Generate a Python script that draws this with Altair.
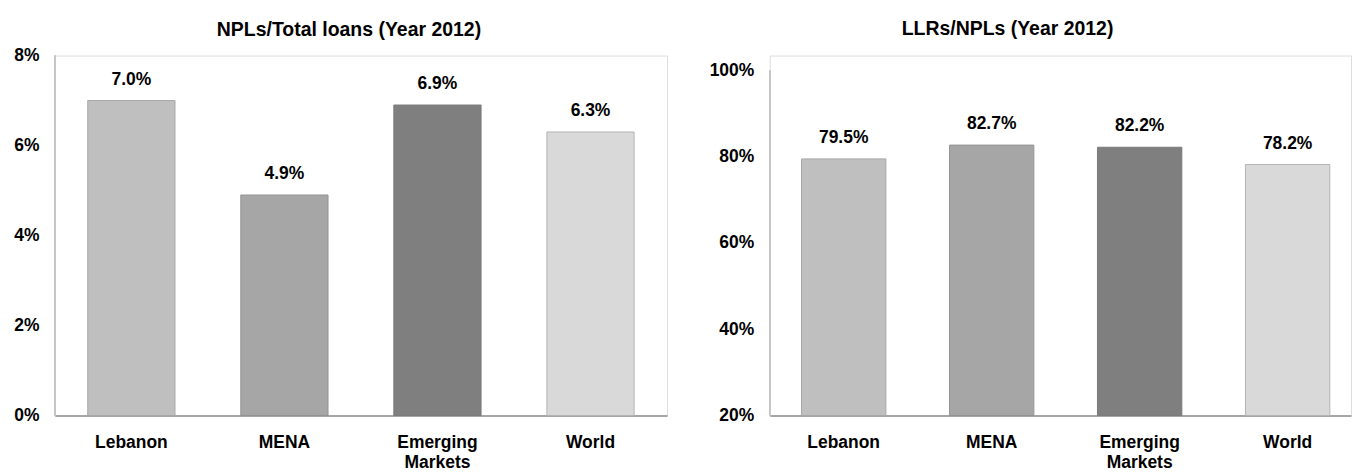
import altair as alt
import pandas as pd

# Categories and bar colours shared by both panels
regions = ["Lebanon", "MENA", "Emerging Markets", "World"]
bar_colors = ["#BFBFBF", "#A6A6A6", "#7F7F7F", "#D9D9D9"]
edge_colors = ["#A8A8A8", "#949494", "#7A7A7A", "#B4B4B4"]

# Year 2012 ratios, in percent
npl_ratio = [7.0, 4.9, 6.9, 6.3]
llr_coverage = [79.5, 82.7, 82.2, 78.2]

left_ticks = [0, 2, 4, 6, 8]
right_ticks = [20, 40, 60, 80, 100]

FONT = "Liberation Sans"
PLOT_H = 361


def panel(values, ticks, y_top, title, width, title_dx, title_offset, pad_outer, align):
    base = ticks[0]
    df = pd.DataFrame({"region": regions, "value": values, "base": [base] * len(values)})
    x = alt.X(
        "region:N",
        sort=regions,
        scale=alt.Scale(paddingInner=0.43, paddingOuter=pad_outer, align=align),
        axis=alt.Axis(
            title=None,
            labelAngle=0,
            ticks=False,
            labelPadding=18,
            labelFontSize=17.5,
            labelFont=FONT,
            labelFontWeight="bold",
            labelColor="#000000",
            labelExpr="split(datum.label, ' ')",
            labelLineHeight=20,
            domainColor="#A6A6A6",
            domainWidth=2,
        ),
    )
    y_scale = alt.Scale(domain=[base, y_top], nice=False, zero=False)
    y_axis = alt.Axis(
        title=None,
        values=ticks,
        labelExpr="datum.value + '%'",
        ticks=False,
        grid=False,
        domain=False,
        labelPadding=16,
        labelFontSize=17.5,
        labelFont=FONT,
        labelFontWeight="bold",
        labelColor="#000000",
    )
    bars = alt.Chart(df).mark_bar(strokeWidth=1).encode(
        x=x,
        y=alt.Y("value:Q", scale=y_scale, axis=y_axis),
        y2="base:Q",
        color=alt.Color("region:N", scale=alt.Scale(domain=regions, range=bar_colors), legend=None),
        stroke=alt.Stroke("region:N", scale=alt.Scale(domain=regions, range=edge_colors), legend=None),
    )
    # vertical axis line running from the lowest to the highest tick
    axis_line = alt.Chart(df).mark_rule(color="#C4C4C4", strokeWidth=1.3).encode(
        x=alt.value(0),
        y=alt.datum(ticks[0]),
        y2=alt.datum(ticks[-1]),
    )
    labels = (
        alt.Chart(df)
        .transform_calculate(txt="format(datum.value, '.1f') + '%'")
        .mark_text(
            baseline="alphabetic",
            dy=-16,
            fontSize=17.5,
            font=FONT,
            fontWeight="bold",
            color="#000000",
        )
        .encode(x=alt.X("region:N", sort=regions), y=alt.Y("value:Q"), text="txt:N")
    )
    return (bars + axis_line + labels).properties(
        width=width,
        height=PLOT_H,
        title=alt.TitleParams(
            title,
            font=FONT,
            fontSize=19.5,
            fontWeight="bold",
            color="#000000",
            anchor="middle",
            offset=title_offset,
            dx=title_dx,
        ),
    )


# The right panel's 100% mark sits a little below the top of the plot area
left = panel(npl_ratio, left_ticks, 8, "NPLs/Total loans (Year 2012)", 614, -12, 6, 0.215, 0.5)
right = panel(llr_coverage, right_ticks, 103.47, "LLRs/NPLs (Year 2012)", 583, -53, 16, 0.179, 0.6)

chart = (
    alt.hconcat(left, right, spacing=40)
    .resolve_scale(x="independent", y="independent", color="independent", stroke="independent")
    .properties(padding={"left": 13, "top": 18, "right": 0, "bottom": 0})
    .configure_view(stroke=None)
    .configure(background="#FFFFFF")
)

chart.save("out.html", embed_options={"renderer": "svg", "actions": False})
